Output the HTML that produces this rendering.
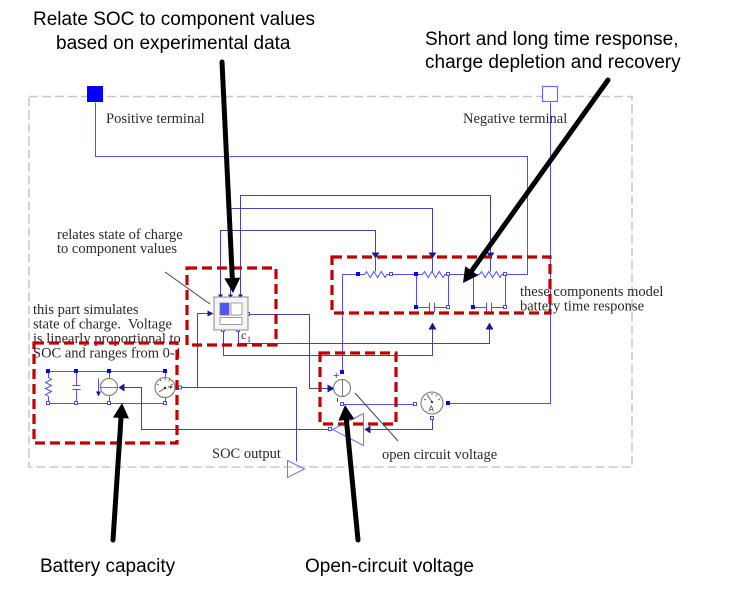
<!DOCTYPE html>
<html>
<head>
<meta charset="utf-8">
<style>
html,body{margin:0;padding:0;background:#fff;}
svg{display:block;}
.call{font-family:"Liberation Sans",Arial,sans-serif;font-size:19px;fill:#000;}
.ser{font-family:"Liberation Serif","DejaVu Serif",serif;font-size:14.5px;fill:#2a2a2a;}
</style>
</head>
<body>
<svg width="736" height="589" viewBox="0 0 736 589" xmlns="http://www.w3.org/2000/svg">
<rect x="0" y="0" width="736" height="589" fill="#fff"/>

<!-- gray dashed boundary -->
<rect x="29" y="96.5" width="603" height="370.5" fill="none" stroke="#c8c8c8" stroke-width="1.6" stroke-dasharray="9 4"/>

<!-- terminals -->
<rect x="87" y="86" width="16" height="16" fill="#0000ff"/>
<rect x="542.5" y="86.5" width="15" height="15" fill="#fff" stroke="#6a6aff" stroke-width="1.2"/>

<g fill="none" stroke-width="1" transform="translate(0.5,0.5)">
  <!-- bright wires -->
  <g stroke="#4f4fff">
    <path d="M95 102 V156 H527 V274 H505"/>
    <path d="M550 102 V403 H448"/>
    <path d="M342 372 V274 H358"/>
    <path d="M391 274 H416"/>
    <path d="M448 274 H473"/>
    <!-- caps -->
    <path d="M416 274 V307 H429 M434 307 H448 V274"/>
    <path d="M429 302 V312 M434 302 V312"/>
    <path d="M473 274 V307 H486 M491 307 H505 V274"/>
    <path d="M486 302 V312 M491 302 V312"/>
    <!-- resistors -->
    <path d="M358 274 H364 l2 -3 l3.7 6 l3.7 -6 l3.7 6 l3.7 -6 l3.7 6 l1.8 -3 H391"/>
    <path d="M416 274 H422 l2 -3 l3.7 6 l3.7 -6 l3.7 6 l3.7 -6 l3.7 6 l1.8 -3 H448"/>
    <path d="M473 274 H479 l2 -3 l3.7 6 l3.7 -6 l3.7 6 l3.7 -6 l3.7 6 l1.8 -3 H505"/>
    <!-- OCV bottom to ammeter -->
    <path d="M342 404 H415"/>
    <!-- SOC block rails -->
    <path d="M48 371 H165 M48 403 H165"/>
    <path d="M48 371 V377 l3 2 l-6 3 l6 3 l-6 3 l6 3 l-6 3 l3 2 V403"/>
    <path d="M76 371 V385 M72 385 H80 M72 389 H80 M76 389 V403"/>
    <path d="M109 371 V378 M109 396 V403"/>
    <path d="M165 371 V377 M165 397 V403"/>
    <path d="M98 378 V393"/>
  </g>
  <!-- darker control wires -->
  <g stroke="#4444b0">
    <path d="M240 297 V195 H490 V252"/>
    <path d="M230 297 V208 H432 V252"/>
    <path d="M220 297 V230 H375 V252"/>
    <path d="M375 258 V271 M432 258 V271 M490 258 V271"/>
    <path d="M223 330 V355 H432 V329"/>
    <path d="M238 330 V343 H489 V329"/>
    <path d="M248 314 H309 V388 H333"/>
    <path d="M181 387 H296 V461"/>
    <path d="M197 387 V313 H212"/>
    <path d="M432 418 V429 H370"/>
    <path d="M330 429 H141 V387 H123"/>
    <path d="M175 387 H179"/>
  </g>
  <!-- triangles -->
  <polygon points="332,429 363,413 363,445" stroke="#7474ff"/>
  <polygon points="287,460 304,468.5 287,477" stroke="#7474ff"/>
</g>

<!-- arrowheads (navy) -->
<g fill="#1a1a8a" transform="translate(0.5,0.5)">
  <polygon points="371,252 379,252 375,258"/>
  <polygon points="428,252 436,252 432,258"/>
  <polygon points="486,252 494,252 490,258"/>
  <polygon points="428,329 436,329 432,322"/>
  <polygon points="485,329 493,329 489,322"/>
  <polygon points="327,384 327,392 334,388"/>
  <polygon points="370,425 370,433 364,429"/>
  <polygon points="124,383 124,391 118,387"/>
  <polygon points="207,310 207,316 213,313"/>
  <polygon points="95.5,391 100.5,391 98,396"/>
  <polygon points="217.5,294 222.5,294 220,298"/>
  <polygon points="227.5,294 232.5,294 230,298"/>
  <polygon points="237.5,294 242.5,294 240,298"/>
</g>

<!-- port squares -->
<g fill="#0000ff">
  <rect x="356" y="272" width="4" height="4"/>
  <rect x="414" y="272" width="4" height="4"/>
  <rect x="414" y="305" width="4" height="4"/>
  <rect x="471" y="305" width="4" height="4"/>
  <rect x="340" y="370" width="4" height="4"/>
  <rect x="446" y="401" width="4" height="4"/>
  <rect x="46" y="369" width="4" height="4"/>
  <rect x="74" y="369" width="4" height="4"/>
  <rect x="107" y="369" width="4" height="4"/>
  <rect x="163" y="369" width="4" height="4"/>
</g>
<g fill="#fff" stroke="#3a3aff" stroke-width="0.9">
  <rect x="389.5" y="272.5" width="3" height="3"/>
  <rect x="446.5" y="272.5" width="3" height="3"/>
  <rect x="503.5" y="272.5" width="3" height="3"/>
  <rect x="446.5" y="305.5" width="3" height="3"/>
  <rect x="503.5" y="305.5" width="3" height="3"/>
  <rect x="340.5" y="402.5" width="3" height="3"/>
  <rect x="413.5" y="402.5" width="3" height="3"/>
  <rect x="46.5" y="401.5" width="3" height="3"/>
  <rect x="74.5" y="401.5" width="3" height="3"/>
  <rect x="107.5" y="401.5" width="3" height="3"/>
  <rect x="163.5" y="401.5" width="3" height="3"/>
  <rect x="178.5" y="386" width="3" height="3"/>
  <rect x="246.5" y="312.5" width="3" height="3"/>
  <rect x="221.5" y="328.5" width="3" height="3"/>
  <rect x="236.5" y="328.5" width="3" height="3"/>
  <rect x="328.5" y="427.5" width="3" height="3"/>
  <rect x="430.5" y="416.5" width="3" height="3"/>
</g>

<!-- OCV source -->
<circle cx="342" cy="388" r="8.5" fill="#fff" stroke="#777" stroke-width="1.1"/>
<path d="M342.5 379.5 V396.5" stroke="#777" stroke-width="1"/>
<text x="333" y="379" font-family="Liberation Sans,sans-serif" font-size="11" fill="#3333ff">+</text>
<path d="M337.5 398 V402" stroke="#3333ff" stroke-width="1"/>

<!-- current source -->
<circle cx="109" cy="387" r="8.5" fill="#fff" stroke="#777" stroke-width="1.1"/>
<path d="M100.5 387.5 H117.5" stroke="#777" stroke-width="1"/>

<!-- voltmeter -->
<circle cx="165" cy="387.5" r="10" fill="#fff" stroke="#777" stroke-width="1.1"/>
<g stroke="#555" stroke-width="0.9">
  <path d="M157 384 l2 1 M160 379.5 l1.3 1.7 M165 378 v2 M170 379.5 l-1.3 1.7 M173 384 l-2 1"/>
  <path d="M165 388 L159 392"/>
  <path d="M168 387 h4 M170 385.5 l2 1.5 l-2 1.5"/>
</g>
<circle cx="165" cy="388" r="1.2" fill="#222"/>

<!-- ammeter -->
<circle cx="432" cy="403" r="11" fill="#fff" stroke="#777" stroke-width="1.1"/>
<g stroke="#555" stroke-width="0.9">
  <path d="M424 399 l2 1 M427 394.5 l1.3 1.7 M432 393 v2 M437 394.5 l-1.3 1.7 M440 399 l-2 1"/>
  <path d="M432 402 L428 396"/>
</g>
<circle cx="432" cy="402" r="1.1" fill="#222"/>
<text x="428.5" y="411.5" font-family="Liberation Sans,sans-serif" font-size="8" fill="#333">A</text>

<!-- c1 block -->
<rect x="214" y="297" width="34" height="33" fill="#f5f5f5" stroke="#888" stroke-width="1"/>
<rect x="220" y="303" width="9" height="12" fill="#5252ff" stroke="#777" stroke-width="0.8"/>
<rect x="231" y="303" width="11" height="12" fill="#fff" stroke="#888" stroke-width="0.8"/>
<rect x="220" y="317.5" width="22" height="7" fill="#fff" stroke="#888" stroke-width="0.8"/>
<text x="241" y="339" font-family="Liberation Serif,serif" font-size="12" fill="#222">c</text>
<text x="247" y="342" font-family="Liberation Serif,serif" font-size="8" fill="#222">1</text>

<!-- annotation leader lines -->
<path d="M165 272 L210 304" stroke="#444" stroke-width="1"/>
<path d="M355 393 L398 441" stroke="#444" stroke-width="1"/>

<!-- serif labels -->
<text class="ser" x="106" y="123">Positive terminal</text>
<text class="ser" x="463" y="123">Negative terminal</text>
<text class="ser" x="57" y="239">relates state of charge</text>
<text class="ser" x="57" y="253">to component values</text>
<text class="ser" x="33" y="314">this part simulates</text>
<text class="ser" x="33" y="328.5">state of charge.&#160; Voltage</text>
<text class="ser" x="33" y="343">is linearly proportional to</text>
<text class="ser" x="33" y="357.5">SOC and ranges from 0-1</text>
<text class="ser" x="520" y="296">these components model</text>
<text class="ser" x="520" y="310.5">battery time response</text>
<text class="ser" x="212" y="458">SOC output</text>
<text class="ser" x="382" y="459">open circuit voltage</text>

<!-- red dashed highlight boxes -->
<g fill="none" stroke="#c00000" stroke-width="3.2" stroke-dasharray="10 5">
  <rect x="34" y="343" width="143" height="100"/>
  <rect x="187" y="268" width="89" height="77"/>
  <rect x="332" y="257" width="218" height="56"/>
  <rect x="320" y="353" width="76" height="71"/>
</g>

<!-- black callout arrows -->
<g stroke="#000" stroke-width="5" stroke-linecap="round" fill="none">
  <path d="M222 62 L232.3 278"/>
  <path d="M608 80 L471.7 270.8"/>
  <path d="M113 540 L121 418"/>
  <path d="M358 540 L346.4 420"/>
</g>
<g fill="#000">
  <polygon points="240.3,277.6 224.3,278.4 233,293"/>
  <polygon points="478.2,275.4 465.2,266.2 463,283"/>
  <polygon points="129,418.5 113,417.5 122,403"/>
  <polygon points="354.4,419.1 338.4,420.7 345,405"/>
</g>

<!-- callout text -->
<text class="call" x="33" y="25">Relate SOC to component values</text>
<text class="call" x="56" y="49">based on experimental data</text>
<text class="call" x="425" y="45">Short and long time response,</text>
<text class="call" x="425" y="68">charge depletion and recovery</text>
<text class="call" x="40" y="572">Battery capacity</text>
<text class="call" x="305" y="572">Open-circuit voltage</text>
</svg>
</body>
</html>
